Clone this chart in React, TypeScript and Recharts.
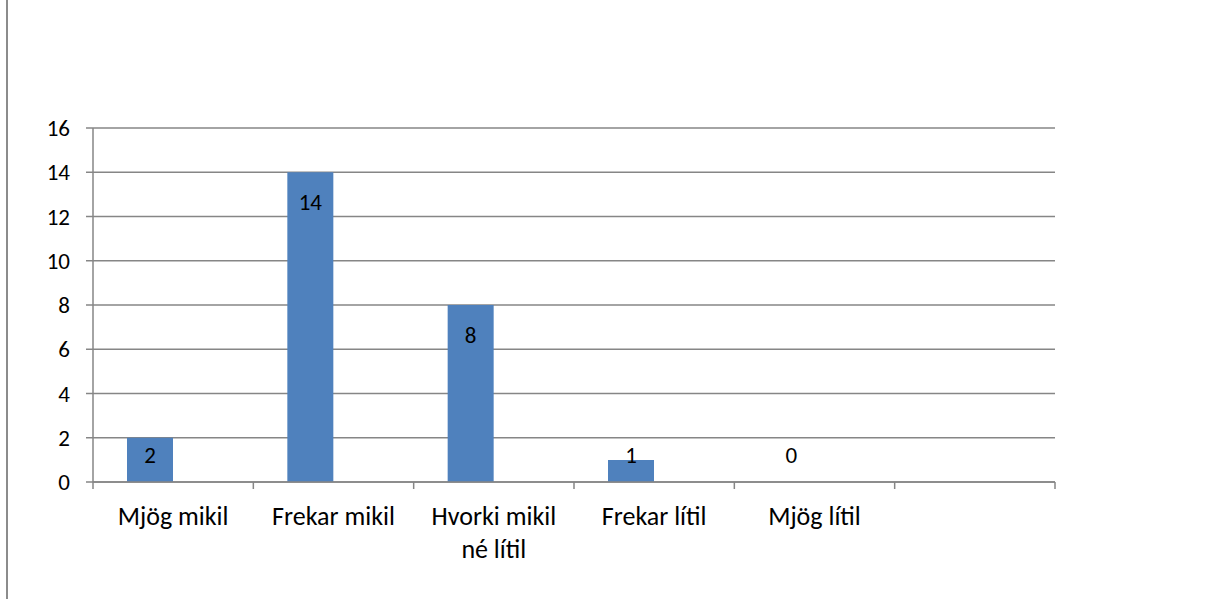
import { BarChart, Bar, XAxis, YAxis, CartesianGrid, LabelList } from 'recharts';

const categories = ['Mjög mikil', 'Frekar mikil', 'Hvorki mikil né lítil', 'Frekar lítil', 'Mjög lítil', ''];
const seriesA = [2, 14, 8, 1, 0, null];
const seriesB = [null, null, null, null, null, null];
const yTicks = [0, 2, 4, 6, 8, 10, 12, 14, 16];

const data = categories.map((name, i) => ({ name, a: seriesA[i], b: seriesB[i] }));

const FONT = 'Carlito, Lato, "Open Sans", sans-serif';
const GREY = '#868686';

// split a label into lines of at most ~13 characters, like the original wrapping
const wrap = (s: string) => {
  const lines: string[] = [];
  let cur = '';
  s.split(' ').forEach((w) => {
    if (cur && (cur + ' ' + w).length > 13) {
      lines.push(cur);
      cur = w;
    } else {
      cur = cur ? cur + ' ' + w : w;
    }
  });
  if (cur) lines.push(cur);
  return lines;
};

// eslint-disable-next-line @typescript-eslint/no-explicit-any
const CategoryTick = (props: any) => {
  const { x, y, payload, index, visibleTicksCount } = props;
  const half = payload.offset ?? 0;
  return (
    <g>
      <line x1={x - half} y1={y - 8} x2={x - half} y2={y - 1} stroke={GREY} strokeWidth={1.5} />
      {index === visibleTicksCount - 1 && (
        <line x1={x + half} y1={y - 8} x2={x + half} y2={y - 1} stroke={GREY} strokeWidth={1.5} />
      )}
      {wrap(String(payload.value)).map((line, i) => (
        <text
          key={i}
          x={x}
          y={y + 26 + i * 33}
          textAnchor="middle"
          dominantBaseline="central"
          fontSize={26}
          fontFamily={FONT}
          fill="#000"
        >
          {line}
        </text>
      ))}
    </g>
  );
};

// eslint-disable-next-line @typescript-eslint/no-explicit-any
const ValueLabel = (props: any) => {
  const { x, y, width, height, value } = props;
  if (value === null || value === undefined) return null;
  const cy = Math.min(y + 30, y + height - 27);
  return (
    <text x={x + width / 2} y={cy} textAnchor="middle" dominantBaseline="central" fontSize={23} fontFamily={FONT} fill="#000">
      {value}
    </text>
  );
};

export default function App() {
  return (
    <div style={{ position: 'absolute', left: 0, top: 0, width: 1212, height: 599, background: '#fff' }}>
      <div style={{ position: 'absolute', left: 6, top: 0, width: 2, height: 599, background: '#8c8c8c' }} />
      <BarChart
        width={1212}
        height={599}
        data={data}
        margin={{ top: 128, right: 157, bottom: 0, left: 0 }}
        barCategoryGap={34}
        barGap={0}
      >
        <CartesianGrid vertical={false} stroke={GREY} strokeWidth={1.5} />
        <XAxis
          dataKey="name"
          height={117}
          axisLine={{ stroke: GREY, strokeWidth: 1.5 }}
          tickLine={false}
          interval={0}
          tick={<CategoryTick />}
        />
        <YAxis
          width={93}
          domain={[0, 16]}
          ticks={yTicks}
          interval={0}
          axisLine={{ stroke: GREY, strokeWidth: 1.5 }}
          tickLine={{ stroke: GREY, strokeWidth: 1.5 }}
          tickSize={7}
          tickMargin={16}
          tick={{ fontSize: 23, fontFamily: FONT, fill: '#000' }}
        />
        <Bar dataKey="a" fill="#4f81bd" minPointSize={0.01} isAnimationActive={false}>
          <LabelList dataKey="a" content={<ValueLabel />} />
        </Bar>
        <Bar dataKey="b" fill="#c0504d" isAnimationActive={false} />
      </BarChart>
    </div>
  );
}
